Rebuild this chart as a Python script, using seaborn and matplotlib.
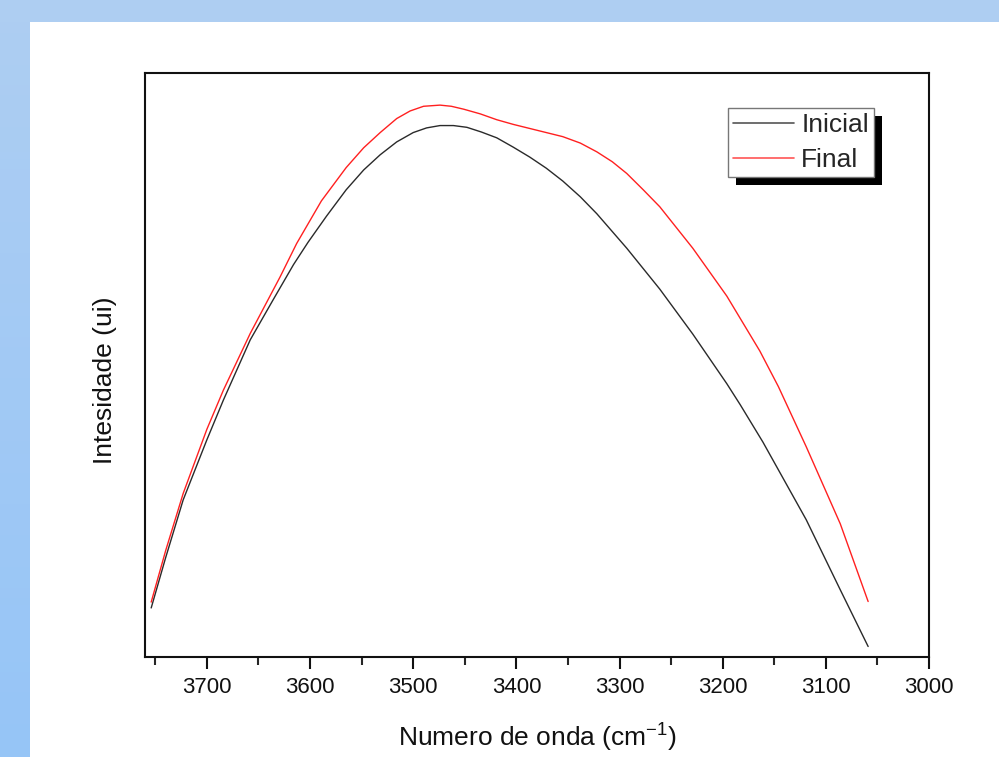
import numpy as np
import pandas as pd
import matplotlib
matplotlib.use("Agg")
import matplotlib.pyplot as plt
import seaborn as sns
from matplotlib.patches import Rectangle
from matplotlib.lines import Line2D
from matplotlib.colors import LinearSegmentedColormap

# ---------------- data ----------------
wn_inicial = [3754, 3740, 3723, 3700, 3684, 3658, 3636, 3616, 3602, 3584,
              3565, 3548, 3532, 3516, 3500, 3487, 3474, 3461, 3448, 3434,
              3419, 3403, 3387, 3371, 3355, 3338, 3322, 3293, 3261, 3229,
              3196, 3183, 3161, 3119, 3086, 3059]
int_inicial = [0.084, 0.170, 0.269, 0.372, 0.440, 0.543, 0.611, 0.672, 0.710, 0.755,
               0.800, 0.834, 0.860, 0.882, 0.898, 0.906, 0.910, 0.910, 0.907, 0.899,
               0.889, 0.873, 0.856, 0.837, 0.815, 0.788, 0.759, 0.700, 0.630, 0.553,
               0.468, 0.432, 0.368, 0.235, 0.115, 0.018]

wn_final = [3754, 3740, 3723, 3700, 3684, 3658, 3629, 3613, 3589, 3581,
            3565, 3548, 3532, 3516, 3503, 3490, 3474, 3463, 3451, 3435,
            3419, 3403, 3387, 3371, 3355, 3338, 3322, 3307, 3293, 3277,
            3261, 3229, 3196, 3164, 3146, 3119, 3086, 3059]
int_final = [0.094, 0.182, 0.280, 0.390, 0.457, 0.554, 0.651, 0.708, 0.781, 0.800,
             0.838, 0.872, 0.898, 0.922, 0.935, 0.943, 0.945, 0.943, 0.938, 0.930,
             0.920, 0.912, 0.905, 0.898, 0.891, 0.880, 0.865, 0.848, 0.828, 0.800,
             0.771, 0.700, 0.618, 0.524, 0.463, 0.360, 0.228, 0.095]

series_labels = ["Inicial", "Final"]
x_major_ticks = [3700, 3600, 3500, 3400, 3300, 3200, 3100, 3000]
x_minor_ticks = [3750, 3650, 3550, 3450, 3350, 3250, 3150, 3050]
x_label = "Numero de onda (cm$^{\\mathregular{-1}}$)"
y_label = "Intesidade (ui)"

# ---------------- styling ----------------
sns.set_style("white")
plt.rcParams["font.family"] = ["Liberation Sans", "DejaVu Sans"]
plt.rcParams["mathtext.fontset"] = "custom"
plt.rcParams["mathtext.rm"] = "Liberation Sans"
plt.rcParams["mathtext.it"] = "Liberation Sans:italic"
plt.rcParams["mathtext.bf"] = "Liberation Sans:bold"

W, H = 999, 757
fig = plt.figure(figsize=(W / 100, H / 100), dpi=100)
fig.patch.set_facecolor("white")

# background bands
band_left = fig.add_axes([0, 0, 30 / W, 1])
cmap = LinearSegmentedColormap.from_list("bg", ["#AECEF2", "#96C5F7"])
band_left.imshow(np.linspace(0, 1, 256).reshape(-1, 1), aspect="auto", cmap=cmap,
                 extent=[0, 1, 0, 1], origin="upper")
band_left.set_axis_off()
band_top = fig.add_axes([0, 1 - 22 / H, 1, 22 / H])
band_top.set_facecolor("#AECEF2")
band_top.set_xticks([]); band_top.set_yticks([])
for s in band_top.spines.values():
    s.set_visible(False)

ax = fig.add_axes([145 / W, 1 - 657 / H, 784 / W, 584 / H])
ax.set_facecolor("white")

df = pd.concat([
    pd.DataFrame({"wn": wn_inicial, "I": int_inicial, "serie": series_labels[0]}),
    pd.DataFrame({"wn": wn_final, "I": int_final, "serie": series_labels[1]}),
])
sns.lineplot(data=df, x="wn", y="I", hue="serie", hue_order=series_labels,
             palette={series_labels[0]: "#2a2a2a", series_labels[1]: "#ff2020"},
             linewidth=1.0, ax=ax, legend=False, estimator=None)

ax.set_xlim(3760, 3000)
ax.set_ylim(0, 1)
ax.set_xticks(x_major_ticks)
ax.set_xticks(x_minor_ticks, minor=True)
ax.set_xticklabels([str(t) for t in x_major_ticks])
ax.set_yticks([])
ax.tick_params(axis="x", which="major", direction="out", length=8.5, width=1.5,
               pad=6, labelsize=16, colors="#111111", bottom=True)
ax.tick_params(axis="x", which="minor", direction="out", length=5.5, width=1.5,
               bottom=True)
for s in ax.spines.values():
    s.set_visible(True)
    s.set_linewidth(1.5)
    s.set_color("#111111")

ax.set_xlabel(x_label, fontsize=19, labelpad=17, color="#111111")
ax.set_ylabel(y_label, fontsize=19, color="#111111")
ax.yaxis.set_label_coords(-0.036, 0.474)

# legend
handles = [Line2D([], [], color="#555555", lw=1.2), Line2D([], [], color="#ff5555", lw=1.2)]
leg = ax.legend(handles, series_labels, loc="upper left",
                bbox_to_anchor=((728 - 145) / 784, (657 - 108) / 584),
                borderaxespad=0, fontsize=19, frameon=True, fancybox=False,
                shadow=False, handlelength=2.3, handletextpad=0.28,
                borderpad=0.2, labelspacing=0.4)
leg.get_frame().set_edgecolor("#777777")
leg.get_frame().set_linewidth(1.0)
leg.get_frame().set_facecolor("white")
leg.get_frame().set_alpha(1)
leg.set_zorder(10)

fig.canvas.draw()
bb = leg.get_frame().get_window_extent(fig.canvas.get_renderer())
bba = bb.transformed(ax.transAxes.inverted())
shadow = Rectangle((bba.x0 + 8 / 784, bba.y0 - 8 / 584), bba.width, bba.height,
                   transform=ax.transAxes, facecolor="black", edgecolor="none",
                   zorder=9, clip_on=False)
ax.add_patch(shadow)

fig.savefig("out.png", dpi=100, facecolor="white")
